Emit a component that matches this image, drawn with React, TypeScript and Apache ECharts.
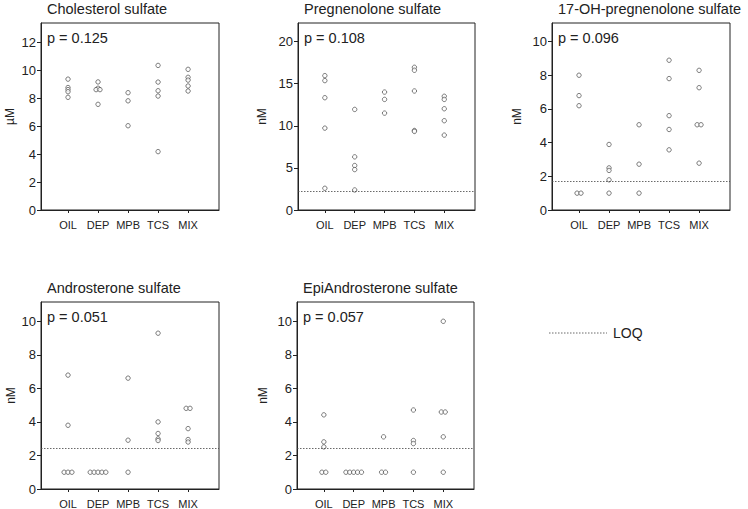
import React, { useEffect, useRef } from 'react';
import * as echarts from 'echarts';

const groups = ['OIL', 'DEP', 'MPB', 'TCS', 'MIX'];

// values per group: OIL, DEP, MPB, TCS, MIX
const cholesterolSulfate = [
  [9.35, 8.75, 8.6, 8.45, 8.05],
  [9.15, 8.7, 8.6, 8.6, 7.55],
  [8.38, 7.8, 6.02],
  [10.33, 9.14, 8.52, 8.14, 4.17],
  [10.05, 9.48, 9.28, 8.86, 8.5],
];
const pregnenoloneSulfate = [
  [15.95, 15.36, 13.33, 9.72, 2.58],
  [11.94, 6.31, 5.28, 4.8, 2.38],
  [14.0, 13.13, 11.5],
  [16.94, 16.59, 14.13, 9.44, 9.33],
  [13.5, 13.13, 12.02, 10.6, 8.89],
];
const ohPregnenoloneSulfate = [
  [8.0, 6.79, 6.19, 1.0, 1.0],
  [3.89, 2.5, 2.35, 1.79, 1.0],
  [5.06, 2.72, 1.0],
  [8.89, 7.8, 5.6, 4.78, 3.57],
  [8.29, 7.26, 5.06, 5.06, 2.78],
];
const androsteroneSulfate = [
  [6.79, 3.8, 1.0, 1.0, 1.0],
  [1.0, 1.0, 1.0, 1.0, 1.0],
  [6.61, 2.91, 1.0],
  [9.29, 4.0, 3.31, 2.99, 2.89],
  [4.81, 4.81, 3.6, 2.95, 2.8],
];
const epiAndrosteroneSulfate = [
  [4.42, 2.81, 2.51, 1.0, 1.0],
  [1.0, 1.0, 1.0, 1.0, 1.0],
  [3.11, 1.0, 1.0],
  [4.71, 2.89, 2.71, 1.0],
  [10.0, 4.59, 4.59, 3.11, 1.0],
];

const panelData = [cholesterolSulfate, pregnenoloneSulfate, ohPregnenoloneSulfate, androsteroneSulfate, epiAndrosteroneSulfate];
const panelTitles = ['Cholesterol sulfate', 'Pregnenolone sulfate', '17-OH-pregnenolone sulfate', 'Androsterone sulfate', 'EpiAndrosterone sulfate'];
const pValues = ['p = 0.125', 'p = 0.108', 'p = 0.096', 'p = 0.051', 'p = 0.057'];
const units = ['µM', 'nM', 'nM', 'nM', 'nM'];
const yMaxes = [13.36, 22.2, 11.1, 11.15, 11.15];
const yTicks = [
  [0, 2, 4, 6, 8, 10, 12],
  [0, 5, 10, 15, 20],
  [0, 2, 4, 6, 8, 10],
  [0, 2, 4, 6, 8, 10],
  [0, 2, 4, 6, 8, 10],
];
const loqValues = [null, 2.22, 1.69, 2.42, 2.42];
const legendLabel = 'LOQ';

// layout (pixels)
const layout = [
  { left: 41, top: 23, width: 178, height: 187, nameGap: 25 },
  { left: 298, top: 23, width: 177, height: 187, nameGap: 30 },
  { left: 552, top: 23, width: 178, height: 187, nameGap: 29 },
  { left: 41, top: 302, width: 178, height: 188, nameGap: 24 },
  { left: 297, top: 302, width: 177, height: 188, nameGap: 28 },
];

const FONT = '"Liberation Sans", Arial, Helvetica, sans-serif';
const INK = '#222';

function toPoints(vals: number[][]) {
  const out: number[][] = [];
  vals.forEach((g, gi) => {
    const counts: Record<string, number> = {};
    g.forEach((v) => (counts[v] = (counts[v] || 0) + 1));
    const seen: Record<string, number> = {};
    g.forEach((v) => {
      const n = counts[v];
      const k = (seen[v] = (seen[v] ?? -1) + 1);
      out.push([gi + 1 + (k - (n - 1) / 2) * 0.13, v]);
    });
  });
  return out;
}

export default function App() {
  const ref = useRef<HTMLDivElement>(null);
  useEffect(() => {
    if (!ref.current) return;
    const chart = echarts.init(ref.current, undefined, { renderer: 'svg' });
    const grid = layout.map((l) => ({
      left: l.left, top: l.top, width: l.width, height: l.height,
      show: true, borderColor: INK, borderWidth: 1, containLabel: false,
    }));
    const xAxis = layout.map((_, i) => ({
      type: 'value', gridIndex: i, min: 0.1, max: 6.03,
      splitLine: { show: false },
      axisLine: { show: true, lineStyle: { color: INK, width: 1 } },
      axisTick: { show: true, length: 3, customValues: [1, 2, 3, 4, 5], lineStyle: { color: INK } },
      axisLabel: {
        customValues: [1, 2, 3, 4, 5],
        formatter: (v: number) => groups[Math.round(v) - 1] ?? '',
        fontSize: 11, margin: 9, color: INK, fontFamily: FONT,
      },
    }));
    const yAxis = layout.map((l, i) => ({
      type: 'value', gridIndex: i, min: 0, max: yMaxes[i],
      splitLine: { show: false },
      axisLine: { show: true, lineStyle: { color: INK, width: 1 } },
      axisTick: { show: true, length: 4, customValues: yTicks[i], lineStyle: { color: INK } },
      axisLabel: { customValues: yTicks[i], fontSize: 13, margin: 5, color: INK, fontFamily: FONT },
      name: units[i], nameLocation: 'middle', nameGap: l.nameGap,
      nameTextStyle: { fontSize: 12, color: INK, fontFamily: FONT },
    }));
    const series = panelData.map((d, i) => ({
      type: 'scatter', xAxisIndex: i, yAxisIndex: i,
      data: toPoints(d), symbol: 'circle', symbolSize: 4.4,
      itemStyle: { color: '#fff', borderColor: '#333', borderWidth: 0.8 },
      silent: true,
      markLine: loqValues[i] == null ? undefined : {
        silent: true, symbol: 'none', label: { show: false },
        lineStyle: { type: [1.5, 1.5], color: '#444', width: 0.8 },
        data: [{ yAxis: loqValues[i] }],
      },
    }));
    const title: any[] = [];
    layout.forEach((l, i) => {
      title.push({
        text: panelTitles[i], left: l.left + 6, top: l.top - 22, padding: 0,
        textStyle: { fontSize: 14.5, fontWeight: 'normal', color: INK, fontFamily: FONT },
      });
      title.push({
        text: pValues[i], left: l.left + 6, top: l.top + 7, padding: 0,
        textStyle: { fontSize: 14.5, fontWeight: 'normal', color: INK, fontFamily: FONT },
      });
    });
    chart.setOption({
      animation: false,
      backgroundColor: '#fff',
      title, grid, xAxis, yAxis, series,
      graphic: [
        { type: 'line', shape: { x1: 549, y1: 333, x2: 607, y2: 333 }, style: { stroke: '#444', lineWidth: 0.8, lineDash: [1.5, 1.5] } },
        { type: 'text', x: 613, y: 333, style: { text: legendLabel, fontSize: 14, fill: INK, fontFamily: FONT, verticalAlign: 'middle' } },
      ],
    });
    return () => chart.dispose();
  }, []);
  return <div ref={ref} style={{ position: 'fixed', left: 0, top: 0, width: 748, height: 509 }} />;
}
